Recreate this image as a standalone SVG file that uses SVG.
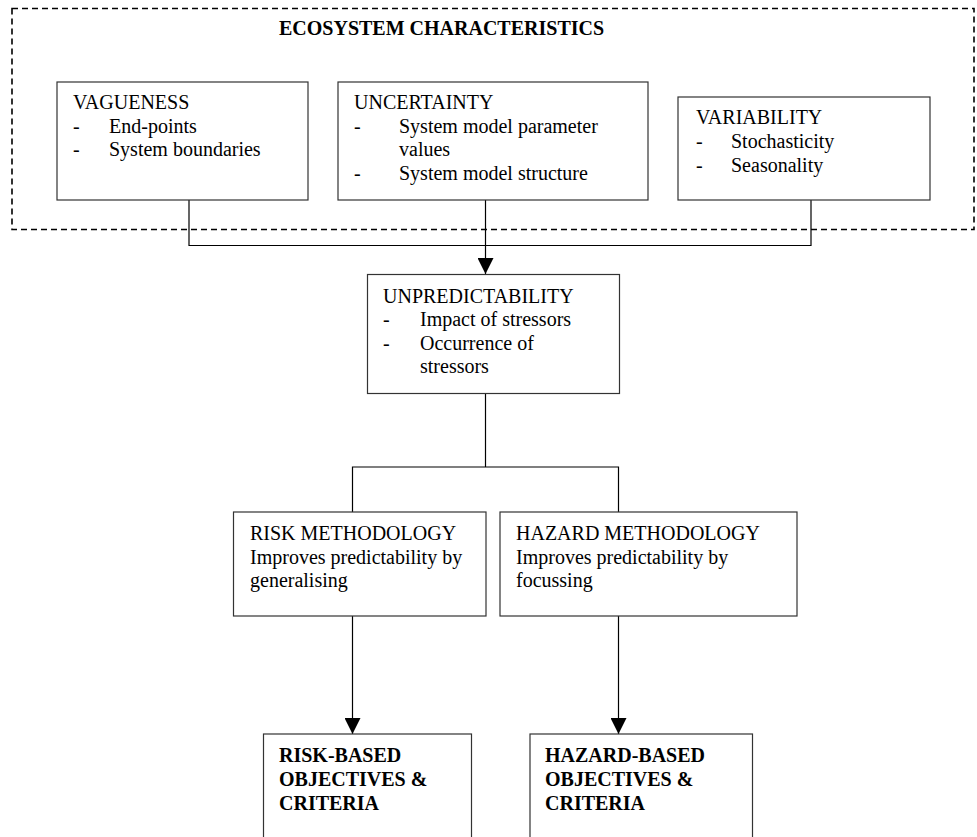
<svg xmlns="http://www.w3.org/2000/svg" width="977" height="837" viewBox="0 0 977 837">
<style>
text{font-family:"Liberation Serif","Times New Roman",serif;font-size:20px;fill:#000}
.b{font-weight:bold}
.box{fill:#fff;stroke:#333;stroke-width:1.2}
.con{fill:none;stroke:#000;stroke-width:1.2}
.dash{fill:none;stroke:#000;stroke-width:1.6;stroke-dasharray:6 4}
</style>
<defs>
<marker id="arr" markerWidth="16" markerHeight="16" refX="16" refY="8" orient="auto" markerUnits="userSpaceOnUse">
<path d="M0,0 L16,8 L0,16 Z" fill="#000"/>
</marker>
</defs>
<rect width="977" height="837" fill="#fff"/>
<g id="ecosystem">
<rect class="dash" x="12" y="8.5" width="962" height="221"/>
<text class="b" x="279" y="35">ECOSYSTEM CHARACTERISTICS</text>
</g>
<g id="connectors">
<polyline class="con" points="189,200 189,245.5 811,245.5 811,200"/>
<line class="con" x1="485.5" y1="200" x2="485.5" y2="274" marker-end="url(#arr)"/>
<polyline class="con" points="485.5,393 485.5,467"/>
<polyline class="con" points="352.5,512 352.5,467 618.5,467 618.5,512"/>
<line class="con" x1="352.5" y1="616" x2="352.5" y2="734" marker-end="url(#arr)"/>
<line class="con" x1="618.5" y1="616" x2="618.5" y2="734" marker-end="url(#arr)"/>
</g>
<g id="vagueness">
<rect class="box" x="57" y="82" width="251" height="118"/>
<text x="73" y="109">VAGUENESS</text>
<text x="73" y="132.5">-</text><text x="109" y="132.5">End-points</text>
<text x="73" y="156">-</text><text x="109" y="156">System boundaries</text>
</g>
<g id="uncertainty">
<rect class="box" x="338" y="82" width="310" height="118"/>
<text x="354" y="109">UNCERTAINTY</text>
<text x="354" y="132.5">-</text><text x="399" y="132.5">System model parameter</text>
<text x="399" y="156">values</text>
<text x="354" y="180">-</text><text x="399" y="180">System model structure</text>
</g>
<g id="variability">
<rect class="box" x="678" y="97" width="252" height="103"/>
<text x="696" y="124">VARIABILITY</text>
<text x="696" y="148">-</text><text x="731" y="148">Stochasticity</text>
<text x="696" y="171.5">-</text><text x="731" y="171.5">Seasonality</text>
</g>
<g id="unpredictability">
<rect class="box" x="367.5" y="274.5" width="252" height="119"/>
<text x="383" y="302.5">UNPREDICTABILITY</text>
<text x="383" y="326">-</text><text x="420" y="326">Impact of stressors</text>
<text x="383" y="349.5">-</text><text x="420" y="349.5">Occurrence of</text>
<text x="420" y="373">stressors</text>
</g>
<g id="risk-methodology">
<rect class="box" x="233.5" y="512" width="252.5" height="104"/>
<text x="250" y="539.5">RISK METHODOLOGY</text>
<text x="250" y="563.5">Improves predictability by</text>
<text x="250" y="587">generalising</text>
</g>
<g id="hazard-methodology">
<rect class="box" x="500" y="512" width="297" height="104"/>
<text x="516" y="539.5">HAZARD METHODOLOGY</text>
<text x="516" y="563.5">Improves predictability by</text>
<text x="516" y="587">focussing</text>
</g>
<g id="risk-based">
<rect class="box" x="263.5" y="734" width="208" height="120"/>
<text class="b" x="279" y="761.5">RISK-BASED</text>
<text class="b" x="279" y="785.5">OBJECTIVES &amp;</text>
<text class="b" x="279" y="809.5">CRITERIA</text>
</g>
<g id="hazard-based">
<rect class="box" x="530" y="734" width="222.5" height="120"/>
<text class="b" x="545" y="761.5">HAZARD-BASED</text>
<text class="b" x="545" y="785.5">OBJECTIVES &amp;</text>
<text class="b" x="545" y="809.5">CRITERIA</text>
</g>
</svg>
